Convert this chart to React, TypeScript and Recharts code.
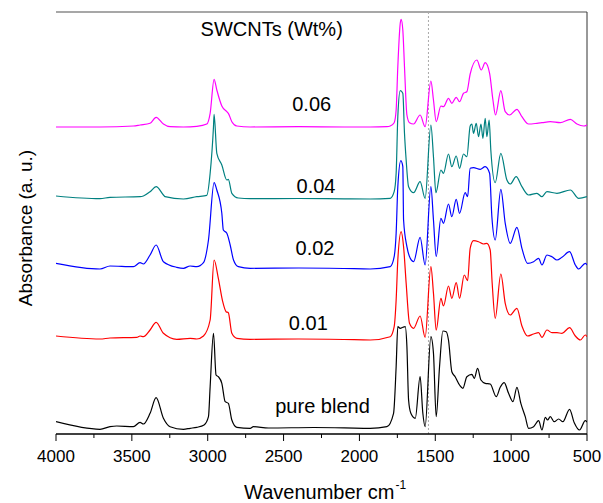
import { Line, LineChart, ReferenceLine, XAxis, YAxis } from "recharts";

// FTIR spectra, stacked. Each pair is [wavenumber cm-1, absorbance (a.u., offset included)]
const pureBlend: [number, number][] = [
  [4000, 12.3], [3710, 4.7], [3644, 7.3], [3600, 8], [3490, 7.3], [3446, 11.7], [3424, 10],
  [3380, 20.7], [3340, 36.3], [3292, 15.7], [3248, 7.3], [3160, 4.7], [3116, 5.7], [3072, 6.7],
  [3024, 9], [2995, 17.3], [2984, 47.3], [2962, 100.7], [2945, 59], [2930, 57.3], [2907, 50.7],
  [2885, 32.3], [2864, 30.7], [2841, 14], [2808, 6.7], [2720, 5.7], [2699, 7.3], [2600, 6],
  [2300, 6.5], [2100, 6.2], [1929, 5.7], [1819, 7.3], [1775, 20.7], [1758, 67.3], [1747, 107.3],
  [1731, 105.7], [1714, 106.7], [1698, 107.3], [1687, 87.3], [1676, 34], [1661, 20.7], [1632, 15.7],
  [1600, 57.3], [1582, 20.7], [1567, 7.3], [1529, 97.3], [1512, 80.7], [1494, 17.3], [1472, 67.3],
  [1450, 103], [1428, 102.3], [1413, 94], [1391, 62.3], [1369, 57.3], [1340, 49], [1318, 45.7],
  [1292, 57.3], [1259, 59.7], [1243, 55.7], [1221, 65.7], [1199, 54], [1171, 50.7], [1138, 50],
  [1098, 37.3], [1072, 46.7], [1046, 51.3], [1017, 40.7], [988, 32.3], [962, 46.7], [936, 30.7],
  [907, 17.3], [885, 5.7], [852, 7.3], [819, 13.3], [797, 4], [775, 16.7], [760, 14], [742, 17.3],
  [716, 12.3], [687, 15], [659, 12.3], [615, 24.7], [584, 11.3], [549, 4], [511, 13.3], [500, 12],
];

const swcnt001: [number, number][] = [
  [4000, 98], [3710, 95], [3644, 96], [3468, 96.7], [3446, 98], [3424, 97.3], [3380, 104],
  [3340, 111.7], [3292, 100.7], [3204, 94.7], [3116, 95.7], [3072, 95], [3028, 98], [2984, 114],
  [2958, 174], [2930, 155.7], [2901, 132.3], [2879, 122.3], [2864, 121.3], [2841, 100.7],
  [2808, 95.7], [2720, 94.7], [2400, 95], [2100, 94.5], [1929, 94], [1797, 97.3], [1771, 107.3],
  [1758, 134], [1747, 174], [1725, 202.3], [1709, 187.3], [1692, 150.7], [1670, 110.7],
  [1643, 105.7], [1600, 118], [1567, 96.7], [1529, 167.3], [1512, 140.7], [1494, 104],
  [1463, 135.7], [1446, 128], [1413, 148], [1391, 135.7], [1362, 151.3], [1340, 135.7],
  [1309, 159], [1287, 153.3], [1270, 185.7], [1248, 193.3], [1215, 192.3], [1182, 190],
  [1160, 190.7], [1138, 184], [1125, 150.7], [1105, 115.7], [1068, 160], [1039, 130.7],
  [1006, 119], [962, 125.7], [929, 108], [892, 98], [852, 100], [819, 101.3], [797, 96.7],
  [764, 104], [731, 101.3], [698, 101.3], [665, 100.7], [615, 106.3], [577, 98], [544, 94],
  [511, 99], [500, 97.3],
];

const swcnt002: [number, number][] = [
  [4000, 170.7], [3710, 165], [3644, 168], [3490, 167.3], [3446, 171.3], [3424, 170], [3380, 179],
  [3340, 189], [3292, 172.3], [3204, 166.7], [3160, 165.7], [3116, 168], [3072, 167.3],
  [3028, 171.3], [2995, 194], [2958, 251.3], [2940, 244], [2907, 220.7], [2897, 204],
  [2874, 200.7], [2852, 189], [2830, 174], [2798, 167.3], [2720, 165.7], [2400, 166], [2100, 165.5],
  [1929, 165], [1797, 167.3], [1771, 177.3], [1758, 200.7], [1747, 247.3], [1727, 273.3],
  [1714, 267.3], [1709, 214], [1687, 187.3], [1665, 175.7], [1643, 172.3], [1600, 196.7],
  [1567, 169], [1529, 247.3], [1512, 214], [1494, 177.3], [1463, 215.7], [1446, 210.7],
  [1413, 230], [1391, 217.3], [1362, 234.7], [1340, 220.7], [1303, 241.3], [1287, 237.3],
  [1270, 265.7], [1248, 266.3], [1204, 264.7], [1171, 267.3], [1142, 260.7], [1127, 217.3],
  [1105, 194], [1068, 244.7], [1039, 210.7], [1006, 190.7], [962, 206.7], [929, 185.7],
  [892, 170.7], [852, 172.3], [819, 175.7], [797, 169], [764, 179], [731, 177.3], [698, 174],
  [665, 176.7], [615, 182.3], [577, 169], [555, 165], [511, 170.7], [500, 169],
];

const swcnt004: [number, number][] = [
  [4000, 238], [3710, 235.3], [3644, 236.7], [3446, 237.3], [3424, 238], [3380, 242.3],
  [3340, 247.3], [3292, 239], [3281, 237.3], [3160, 235], [3072, 237.3], [3006, 238.7],
  [2984, 260.7], [2962, 307.3], [2958, 319.7], [2940, 280.7], [2907, 269], [2874, 254],
  [2864, 254.7], [2841, 240.7], [2798, 236], [2720, 235.3], [2400, 235.5], [2100, 235.2],
  [1929, 235], [1797, 235.7], [1771, 242.3], [1758, 260.7], [1747, 317.3], [1731, 343.3],
  [1714, 340.7], [1703, 300.7], [1692, 274], [1676, 247.3], [1643, 241.3], [1600, 252.3],
  [1567, 235.7], [1529, 309], [1512, 277.3], [1496, 241.3], [1463, 264], [1446, 260.7],
  [1413, 280], [1391, 267.3], [1362, 278], [1340, 265.7], [1314, 280], [1292, 277.3],
  [1270, 308], [1259, 310], [1248, 300.7], [1230, 310.7], [1215, 297.3], [1199, 310],
  [1186, 295.7], [1171, 315.7], [1160, 297.3], [1145, 314], [1134, 284], [1105, 251.3],
  [1068, 280.7], [1028, 254], [1006, 250], [967, 257.3], [929, 247.3], [885, 239], [830, 240.7],
  [797, 237.3], [764, 242.3], [698, 240.7], [610, 244], [555, 235.7], [500, 237.3],
];

const swcnt006: [number, number][] = [
  [4000, 307], [3710, 307], [3490, 308], [3446, 309], [3380, 310.7], [3340, 316.7], [3292, 310],
  [3248, 307.3], [3160, 307], [3072, 307.7], [3006, 310], [2984, 320.7], [2958, 354.7],
  [2940, 344], [2907, 328], [2874, 322.3], [2864, 320.7], [2841, 312.3], [2808, 308],
  [2720, 307], [2400, 307.3], [2100, 307], [1929, 307], [1819, 307.3], [1797, 308],
  [1771, 311.3], [1758, 324], [1747, 367.3], [1731, 410.7], [1725, 414.7], [1714, 404],
  [1703, 367.3], [1687, 319], [1670, 311.3], [1643, 310], [1600, 319], [1567, 307.3],
  [1529, 353], [1512, 334], [1494, 312.3], [1463, 328], [1446, 327.3], [1413, 335.7],
  [1391, 330.7], [1362, 336.7], [1340, 332.3], [1314, 340.7], [1292, 342.3], [1270, 360],
  [1226, 374], [1197, 364], [1171, 371.3], [1142, 360.7], [1120, 334], [1103, 319],
  [1068, 343.3], [1039, 322.3], [1010, 319], [962, 324.7], [929, 317.3], [885, 310],
  [830, 310.7], [797, 311.3], [742, 312.3], [676, 311.3], [610, 314.7], [566, 310], [522, 308],
  [500, 309],
];

const seriesColors = ["#000000", "#ff0000", "#0000ff", "#008080", "#ff00ff"];
const seriesList = [pureBlend, swcnt001, swcnt002, swcnt004, swcnt006];
const xTicks = [4000, 3750, 3500, 3250, 3000, 2750, 2500, 2250, 2000, 1750, 1500, 1250, 1000, 750, 500];

const FONT = '"Liberation Sans", Arial, sans-serif';

function toRows(points: [number, number][]) {
  return points.map(([wn, a]) => ({ wn, a }));
}

function WaveTick({ x, y, payload }: any) {
  const major = payload.value % 500 === 0;
  return (
    <g>
      <line x1={x} x2={x} y1={y} y2={y + (major ? 7 : 4)} stroke="#000" strokeWidth={1} />
      {major && (
        <text x={x} y={y + 28} textAnchor="middle" fontSize={17} fontFamily={FONT} fill="#000">
          {payload.value}
        </text>
      )}
    </g>
  );
}

export default function App() {
  return (
    <div style={{ position: "absolute", left: 0, top: 0, width: 603, height: 503, background: "#fff" }}>
      <LineChart width={603} height={503} margin={{ top: 12, right: 16, bottom: 29, left: 56 }}>
        <XAxis
          dataKey="wn"
          type="number"
          domain={[500, 4000]}
          reversed
          ticks={xTicks}
          interval={0}
          tickSize={0}
          tickMargin={0}
          tickLine={false}
          tick={<WaveTick />}
          height={40}
          axisLine={{ stroke: "#000", strokeWidth: 1.5 }}
          allowDataOverflow
        />
        <YAxis
          type="number"
          domain={[0, 422]}
          width={0}
          tick={false}
          tickLine={false}
          axisLine={{ stroke: "#000", strokeWidth: 2 }}
          allowDataOverflow
        />
        <ReferenceLine y={422} stroke="#8a8a8a" strokeWidth={1.5} />
        <ReferenceLine x={500} stroke="#333" strokeWidth={1} />
        <ReferenceLine x={1545} stroke="#aaa" strokeWidth={1} strokeDasharray="2 2" />
        {seriesList.map((s, i) => (
          <Line
            key={i}
            data={toRows(s)}
            dataKey="a"
            type="monotone"
            dot={false}
            stroke={seriesColors[i]}
            strokeWidth={1.2}
            isAnimationActive={false}
          />
        ))}
      </LineChart>
      <svg
        width={603}
        height={503}
        style={{ position: "absolute", left: 0, top: 0, pointerEvents: "none" }}
        fontFamily={FONT}
        fill="#000"
      >
        <text x={271.7} y={36} fontSize={20} textAnchor="middle">SWCNTs (Wt%)</text>
        <text x={311.7} y={111} fontSize={20} textAnchor="middle">0.06</text>
        <text x={316} y={193.3} fontSize={20} textAnchor="middle">0.04</text>
        <text x={315} y={255} fontSize={20} textAnchor="middle">0.02</text>
        <text x={308.3} y={330} fontSize={20} textAnchor="middle">0.01</text>
        <text x={322.5} y={413.3} fontSize={20} textAnchor="middle">pure blend</text>
        <text x={244} y={499} fontSize={20}>
          Wavenumber cm
          <tspan dy={-10} dx={1} fontSize={12}>-1</tspan>
        </text>
        <text x={32} y={228} fontSize={19} textAnchor="middle" transform="rotate(-90 32 228)">
          Absorbance (a. u.)
        </text>
      </svg>
    </div>
  );
}
